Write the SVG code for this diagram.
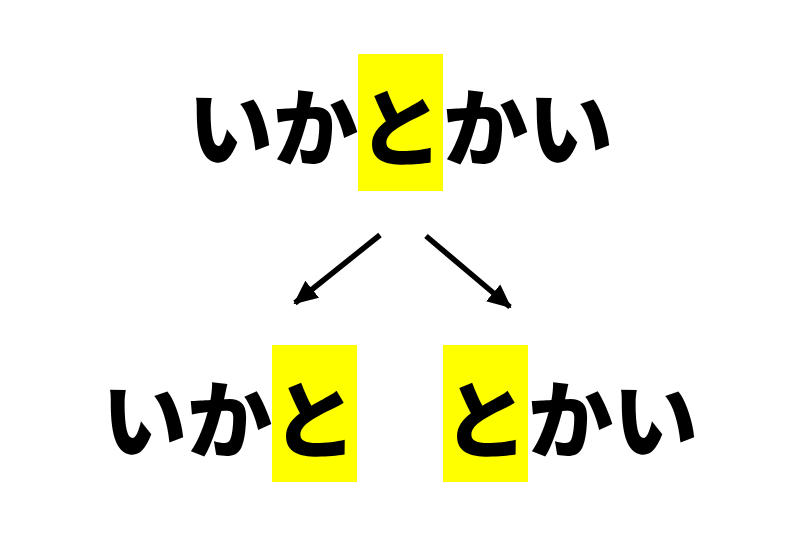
<svg xmlns="http://www.w3.org/2000/svg" width="792" height="542" viewBox="0 0 792 542">
<style>
.t{font-family:"Noto Sans CJK JP","Noto Sans CJK SC",sans-serif;font-weight:900;font-size:85px;fill:#000}
.hl{fill:#ffff00}
.c{stroke:#000;stroke-width:5.5;fill:none}
</style>
<defs>
<marker id="ah" markerUnits="userSpaceOnUse" markerWidth="24" markerHeight="24" viewBox="0 0 24 24" refX="22" refY="12" orient="auto">
<path d="M0,1 L24,12 L0,23 Z" fill="#000"/>
</marker>
</defs>
<rect width="792" height="542" fill="#fff"/>
<g id="top">
<rect class="hl" x="358" y="54" width="85" height="137"/>
<text class="t" x="188" y="160">いかとかい</text>
</g>
<g id="left">
<rect class="hl" x="272" y="345" width="85" height="137"/>
<text class="t" x="102" y="452">いかと</text>
</g>
<g id="right">
<rect class="hl" x="443" y="345" width="85" height="137"/>
<text class="t" x="443" y="452">とかい</text>
</g>
<g id="connectors">
<line class="c" x1="380" y1="235" x2="295" y2="303" marker-end="url(#ah)"/>
<line class="c" x1="426" y1="236" x2="510" y2="307" marker-end="url(#ah)"/>
</g>
</svg>
